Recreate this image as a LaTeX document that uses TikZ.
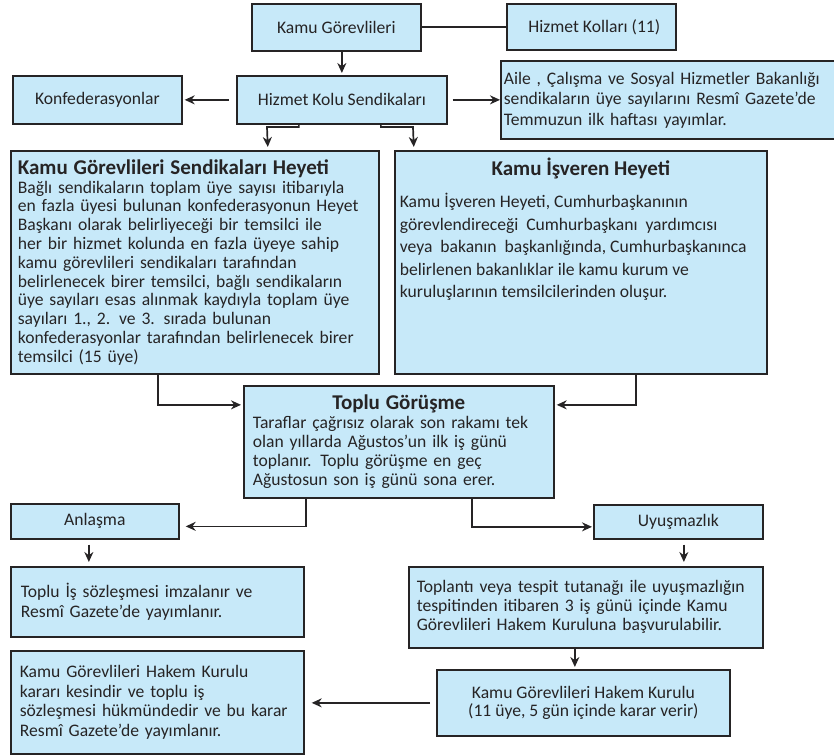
\documentclass[tikz,border=0pt]{standalone}
\usepackage{fontspec}
\setmainfont{Carlito}
\usetikzlibrary{arrows.meta}
\definecolor{kutumavi}{RGB}{199,233,249}
\definecolor{koyu}{RGB}{38,36,37}
\newcommand{\baslik}[1]{{\fontsize{21bp}{21bp}\selectfont\bfseries #1}}
\tikzset{
  kutu/.style={draw=koyu, fill=kutumavi, line width=1.7bp, anchor=north west,
    inner sep=0pt, text=koyu, font=\fontsize{17.6bp}{19bp}\selectfont},
  yazi/.style={kutu, align=left},
  bag/.style={draw=koyu, line width=1.7bp},
  ok/.style={bag, -{Stealth[length=10bp,width=9bp]}}
}
\begin{document}
\begin{tikzpicture}[x=1bp,y=-1bp]
\useasboundingbox (0,0) rectangle (834,756);
% ust kisim
\node[kutu, minimum width=169bp, minimum height=47bp] (kg) at (251,3) {Kamu Görevlileri};
\node[kutu, minimum width=169bp, minimum height=46bp] (hk) at (506,3) {\hspace{6bp}Hizmet Kolları (11)};
\node[kutu, minimum width=210bp, minimum height=48bp] (hks) at (236,75) {Hizmet Kolu Sendikaları};
\node[kutu, minimum width=169bp, minimum height=48bp] (konf) at (12,75) {Konfederasyonlar};
\node[yazi, text width=340bp, inner xsep=3bp, minimum height=78bp,
  font=\fontsize{17.6bp}{20.5bp}\selectfont] (aile) at (500,60)
  {Aile , Çalışma ve Sosyal Hizmetler Bakanlığı\\
   sendikaların üye sayılarını Resmî Gazete’de\\
   Temmuzun ilk haftası yayımlar.};
% heyetler
\node[yazi, text width=354bp, inner xsep=7bp, minimum height=223bp,
  font=\fontsize{17.6bp}{18.8bp}\selectfont] (kgsh) at (10,150)
  {\baslik{Kamu Görevlileri Sendikaları Heyeti}\\
   Bağlı sendikaların toplam üye sayısı itibarıyla\\
   en fazla üyesi bulunan konfederasyonun Heyet\\
   Başkanı olarak belirliyeceği bir temsilci ile\\
   her bir hizmet kolunda en fazla üyeye sahip\\
   kamu görevlileri sendikaları tarafından\\
   belirlenecek birer temsilci, bağlı sendikaların\\
   üye sayıları esas alınmak kaydıyla toplam üye\\
   sayıları 1., 2. ve 3. sırada bulunan\\
   konfederasyonlar tarafından belirlenecek birer\\
   temsilci (15 üye)};
\node[kutu, inner xsep=5bp, inner ysep=7bp, minimum width=372bp, minimum height=223bp] (kih) at (394,150)
  {\begin{minipage}[t][209bp][t]{362bp}
   \fontsize{17.6bp}{22.5bp}\selectfont
   {\centering\baslik{Kamu İşveren Heyeti}\par}
   \vspace{10bp}
   Kamu İşveren Heyeti, Cumhurbaşkanının\\
   görevlendireceği~ Cumhurbaşkanı~ yardımcısı\\
   veya~ bakanın~ başkanlığında, Cumhurbaşkanınca\\
   belirlenen bakanlıklar ile kamu kurum ve\\
   kuruluşlarının temsilcilerinden oluşur.
   \end{minipage}};
% toplu gorusme
\node[yazi, text width=292bp, inner xsep=9bp, minimum height=112bp] (tg) at (243,385)
  {{\centering\baslik{Toplu Görüşme}\par}
   Taraflar çağrısız olarak son rakamı tek\\
   olan yıllarda Ağustos’un ilk iş günü\\
   toplanır. Toplu görüşme en geç\\
   Ağustosun son iş günü sona erer.};
% alt kisim
\node[kutu, minimum width=168bp, minimum height=35bp] (anl) at (10,503) {Anlaşma};
\node[kutu, minimum width=169bp, minimum height=34bp] (uyu) at (593,504) {Uyuşmazlık};
\node[yazi, text width=273bp, inner xsep=10bp, minimum height=70bp,
  font=\fontsize{17.6bp}{20bp}\selectfont] (tis) at (10,566)
  {Toplu İş sözleşmesi imzalanır ve\\ Resmî Gazete’de yayımlanır.};
\node[yazi, text width=338bp, inner xsep=8bp, minimum height=81bp] (tpl) at (408,566)
  {Toplantı veya tespit tutanağı ile uyuşmazlığın\\
   tespitinden itibaren 3 iş günü içinde Kamu\\
   Görevlileri Hakem Kuruluna başvurulabilir.};
\node[kutu, align=center, minimum width=293bp, minimum height=66bp,
  font=\fontsize{17.6bp}{18bp}\selectfont] (hkm) at (436,669)
  {Kamu Görevlileri Hakem Kurulu\\ (11 üye, 5 gün içinde karar verir)};
\node[yazi, text width=275bp, inner xsep=9bp, minimum height=103bp,
  font=\fontsize{17.6bp}{19.5bp}\selectfont] (karar) at (10,650)
  {Kamu Görevlileri Hakem Kurulu\\
   kararı kesindir ve toplu iş\\
   sözleşmesi hükmündedir ve bu karar\\
   Resmî Gazete’de yayımlanır.};
% baglantilar
\draw[ok, shorten >=2bp] (kg.south -| hks.north) -- (hks.north);
\draw[bag] (kg.east) -- (kg.east -| hk.west);
\draw[ok, shorten <=7bp, shorten >=2bp] (hks.west) -- (konf.east);
\draw[ok, shorten <=5bp] (hks.east) -- (hks.east -| aile.west);
\draw[ok, shorten >=3bp] ([xshift=-43bp]hks.south) |- (267,127) -- ([xshift=73bp]kgsh.north);
\draw[ok, shorten >=3bp] ([xshift=39bp]hks.south) |- (413,127) -- ([xshift=-167bp]kih.north);
\draw[ok, shorten >=2bp] ([xshift=-37bp]kgsh.south) |- ([yshift=37bp]tg.west);
\draw[ok, shorten >=2bp] ([xshift=55bp]kih.south) |- ([yshift=37bp]tg.east);
\draw[ok, shorten >=6bp] ([xshift=-93bp]tg.south) |- ([yshift=-5bp]anl.east);
\draw[ok, shorten >=1bp] ([xshift=73bp]tg.south) |- ([yshift=-5bp]uyu.west);
\draw[ok, shorten <=5bp, shorten >=4bp] ([xshift=-6bp]anl.south) -- ([xshift=-6bp]anl.south |- tis.north);
\draw[ok, shorten <=5bp, shorten >=4bp] ([xshift=5.5bp]uyu.south) -- ([xshift=5.5bp]uyu.south |- tpl.north);
\draw[ok, shorten >=2bp] ([xshift=-11bp]tpl.south) -- ([xshift=-11bp]tpl.south |- hkm.north);
\draw[ok, shorten <=6bp, shorten >=7bp] (hkm.west) -- (hkm.west -| karar.east);
\end{tikzpicture}
\end{document}
